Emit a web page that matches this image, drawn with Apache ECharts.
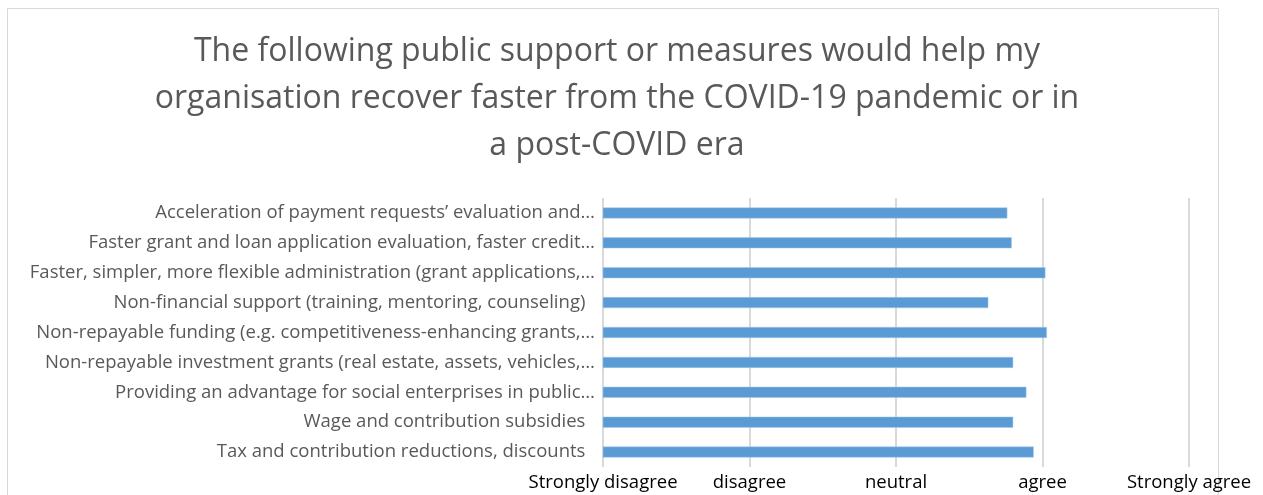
<!DOCTYPE html>
<html>
<head>
<meta charset="utf-8">
<script src="https://cdn.jsdelivr.net/npm/echarts@6/dist/echarts.min.js"></script>
<style>
  html, body { margin: 0; padding: 0; background: #fff; }
  #chart { width: 1263px; height: 495px; }
</style>
</head>
<body>
<div id="chart"></div>
<script>
// Support measures (top to bottom) and their mean agreement score (1–5 scale)
const measures = [
  "Acceleration of payment requests’ evaluation and…",
  "Faster grant and loan application evaluation, faster credit…",
  "Faster, simpler, more flexible administration (grant applications,…",
  "Non-financial support (training, mentoring, counseling)  ",
  "Non-repayable funding (e.g. competitiveness-enhancing grants,…",
  "Non-repayable investment grants (real estate, assets, vehicles,…",
  "Providing an advantage for social enterprises in public…",
  "Wage and contribution subsidies  ",
  "Tax and contribution reductions, discounts  "
];
const scores = [3.76, 3.79, 4.02, 3.63, 4.03, 3.80, 3.89, 3.80, 3.94];

// Likert scale tick labels, one per integer step
const scaleLabels = ["Strongly disagree", "disagree", "neutral", "agree", "Strongly agree"];

const titleText = "The following public support or measures would help my\norganisation recover faster from the COVID-19 pandemic or in\na post-COVID era";

const FONT = "'Open Sans', 'Noto Sans', sans-serif";

const chart = echarts.init(document.getElementById('chart'), null, { renderer: 'canvas' });

chart.setOption({
  animation: false,
  backgroundColor: '#ffffff',
  graphic: [{
    type: 'rect',
    shape: { x: 7.5, y: 8.5, width: 1211, height: 520 },
    style: { fill: 'none', stroke: '#d9d9d9', lineWidth: 1 },
    silent: true
  }],
  title: {
    text: titleText,
    left: 612,
    textAlign: 'center',
    top: 23,
    textStyle: {
      fontFamily: FONT,
      fontSize: 32,
      fontWeight: 'normal',
      color: '#595959',
      lineHeight: 47
    }
  },
  grid: {
    left: 603,
    right: 74,
    top: 198,
    bottom: 28,
    containLabel: false
  },
  xAxis: {
    type: 'value',
    min: 1,
    max: 5,
    interval: 1,
    axisLine: { show: false },
    axisTick: { show: false },
    splitLine: { show: true, lineStyle: { color: '#d9d9d9', width: 2 } },
    axisLabel: {
      fontFamily: FONT,
      fontSize: 18.5,
      color: '#000000',
      margin: 6,
      formatter: v => scaleLabels[Math.round(v) - 1]
    }
  },
  yAxis: {
    type: 'category',
    inverse: true,
    data: measures,
    axisLine: { show: false },
    axisTick: { show: false },
    axisLabel: {
      fontFamily: FONT,
      fontSize: 18.5,
      color: '#595959',
      margin: 8
    }
  },
  series: [{
    type: 'bar',
    data: scores,
    barWidth: 11,
    itemStyle: { color: '#5b9bd5', borderColor: '#a9c9e8', borderWidth: 0.5 }
  }]
});
</script>
</body>
</html>
